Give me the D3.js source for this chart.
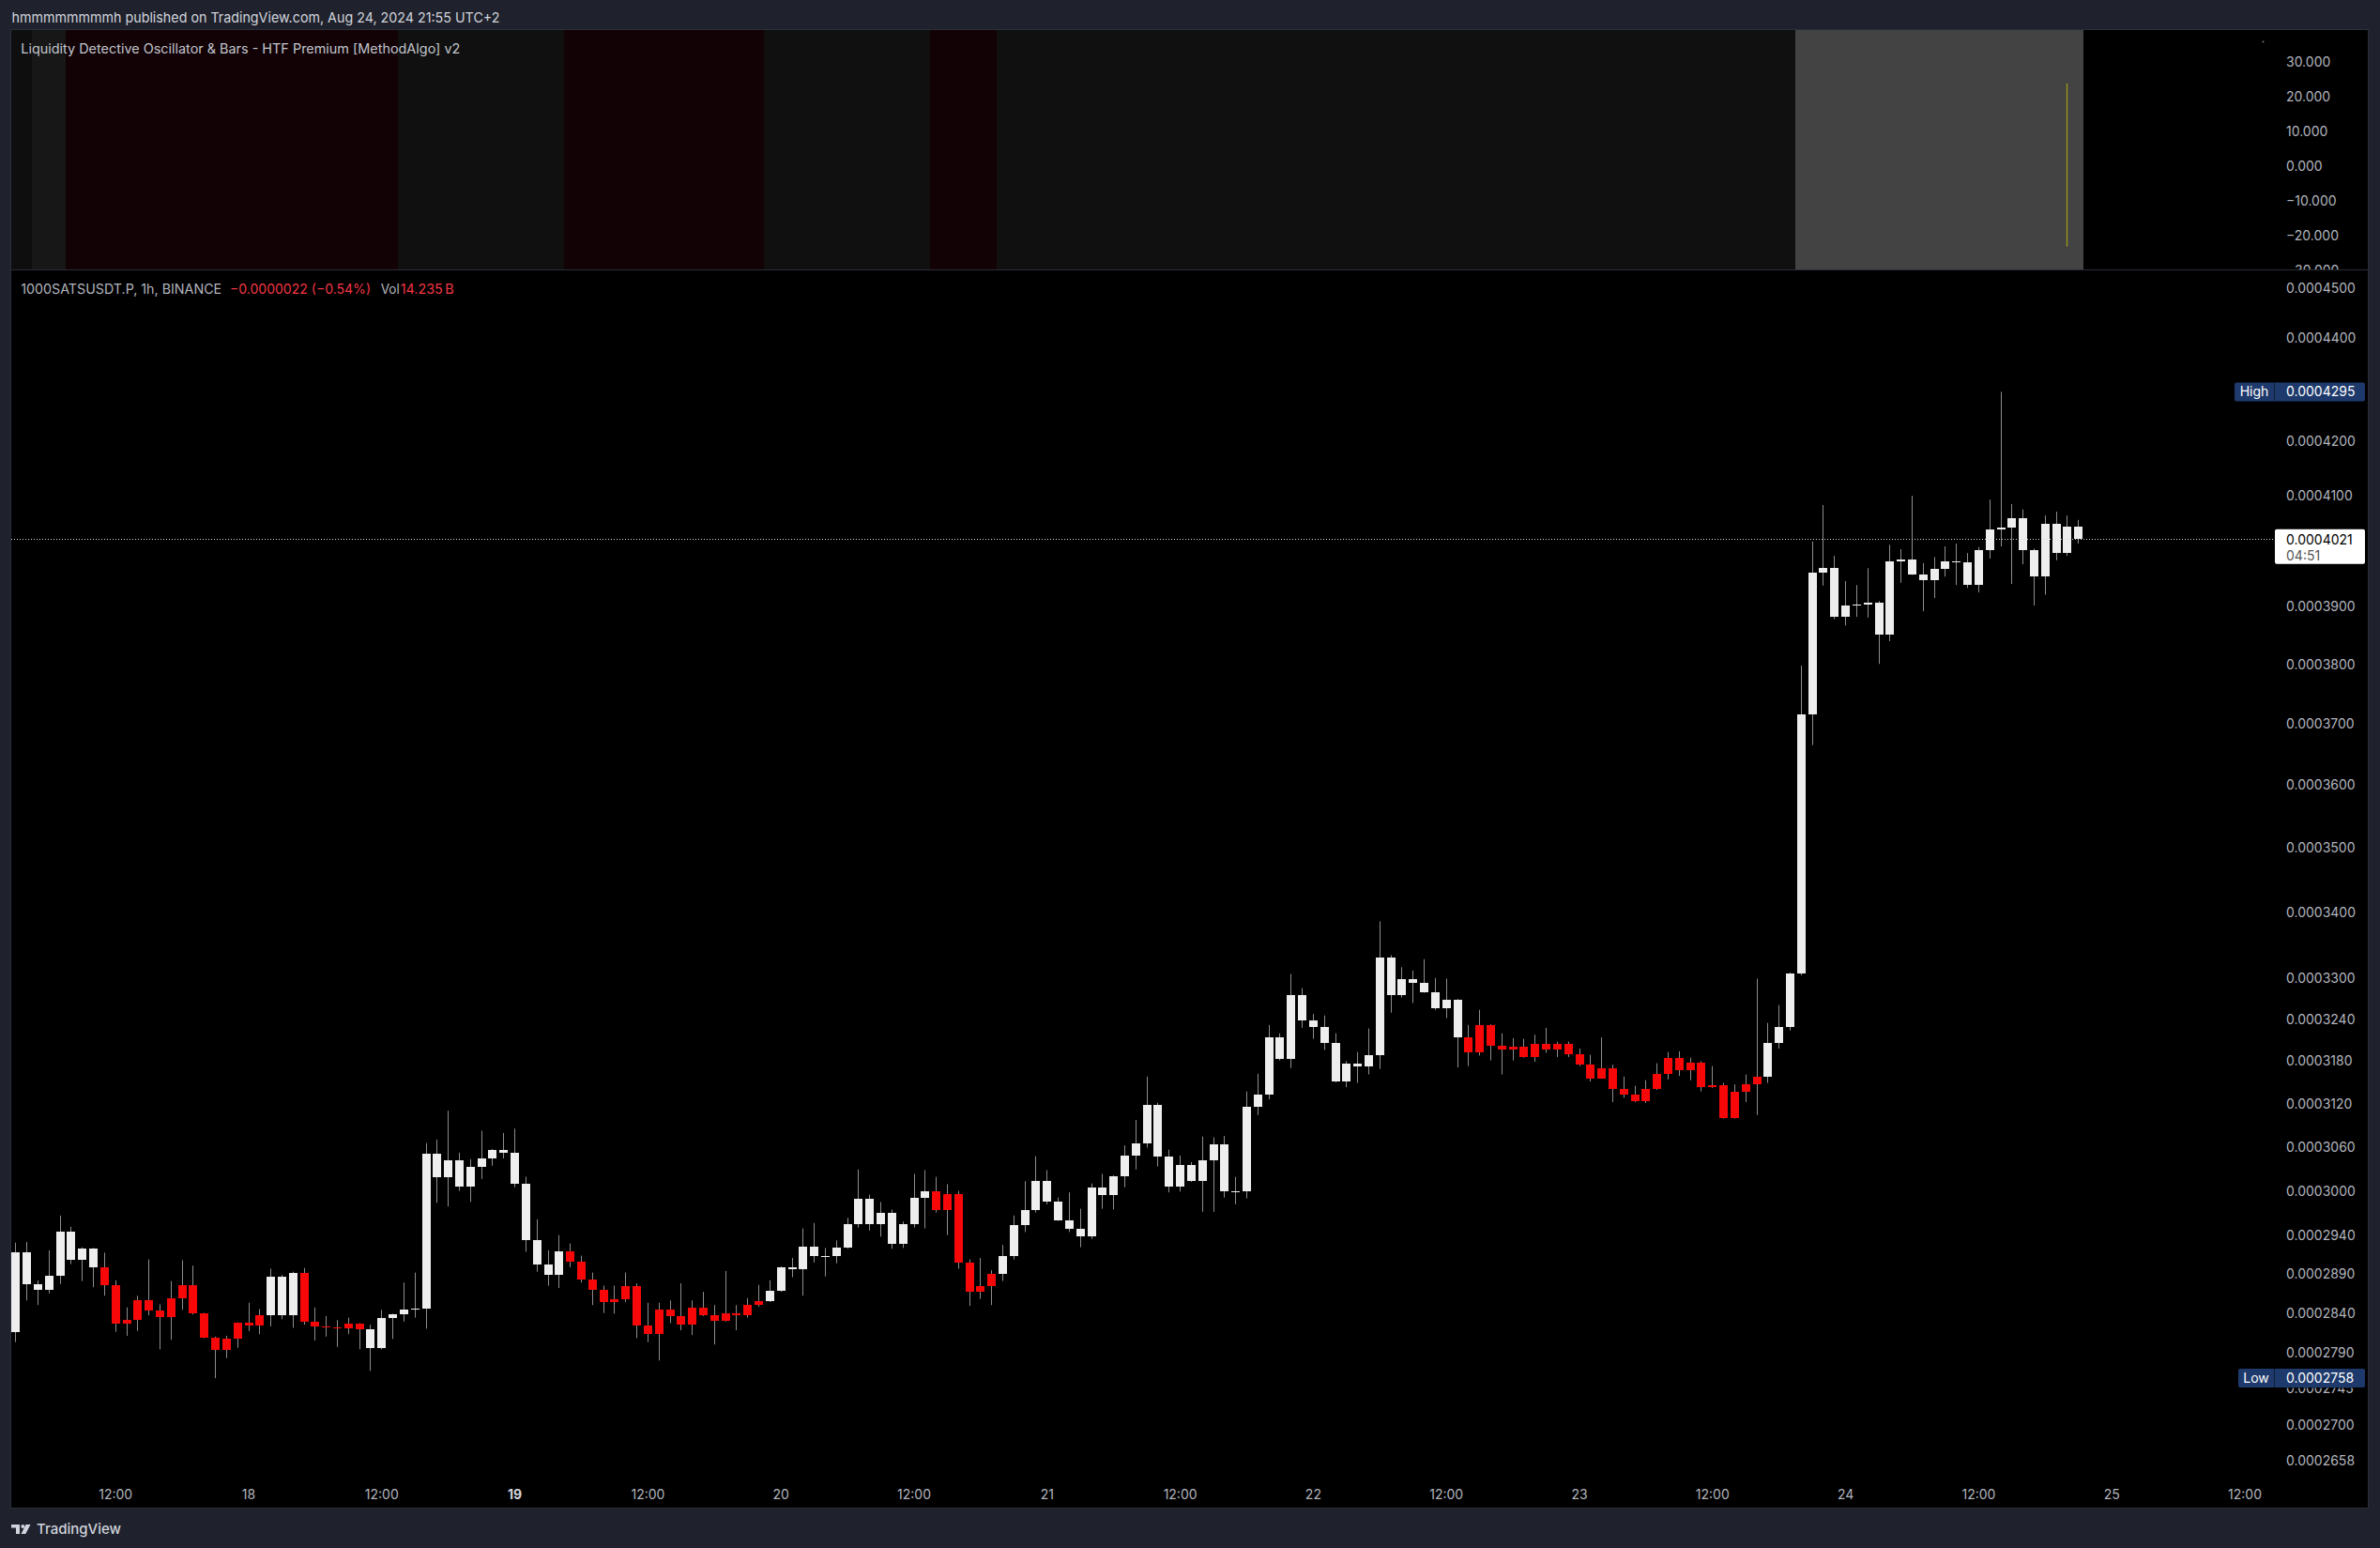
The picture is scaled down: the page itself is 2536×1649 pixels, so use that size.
<!DOCTYPE html>
<html><head><meta charset="utf-8">
<script src="https://cdn.jsdelivr.net/npm/d3@7"></script>
<style>
html,body{margin:0;padding:0;background:#1f222c;overflow:hidden;}
svg{display:block;}
</style></head>
<body><svg id="c" width="2536" height="1649"></svg>
<script>
// ---------------- DATA (prices in units of 1e-7) ----------------
const startTime = "2024-08-17T03:00:00Z";   // first 1h bar, UTC+2 wall clock
const priceUnit = 1e-7;
const open = [2816,2919,2877,2870,2888,2946,2909,2923,2899,2876,2826,2831,2856,2843,2835,2859,2876,2839,2809,2793,
2807,2827,2824,2837,2886,2837,2892,2829,2823,2822,2820,2826,2819,2796,2833,2838,2844,2846,3051,3019,
3041,3006,3032,3044,3056,3052,3009,2934,2903,2889,2920,2906,2883,2870,2854,2858,2875,2824,2813,2844,
2836,2825,2847,2837,2830,2839,2837,2850,2855,2868,2899,2896,2926,2913,2914,2925,2956,2990,2956,2971,
2929,2956,2991,2999,2974,2996,2905,2867,2875,2890,2913,2954,2974,3013,2986,2961,2949,2939,3005,2994,
3020,3048,3065,3118,3046,3006,3035,3013,3041,3064,2999,3000,3116,3132,3214,3183,3276,3239,3229,3206,
3151,3177,3173,3188,3332,3276,3300,3294,3280,3257,3269,3214,3192,3232,3202,3196,3200,3186,3205,3197,
3205,3190,3175,3155,3170,3140,3132,3124,3141,3162,3185,3167,3178,3143,3146,3100,3137,3147,3158,3206,
3229,3308,3716,3960,3969,3882,3902,3904,3907,3852,3980,3983,3957,3946,3966,3980,3979,3938,4000,4038,
4041,4058,4000,3953,4048,3995,4043];
const high = [2931,2932,2882,2921,2967,2952,2925,2924,2918,2882,2847,2862,2909,2851,2881,2908,2901,2840,2810,2811,
2828,2853,2845,2897,2889,2893,2898,2847,2836,2831,2834,2827,2825,2844,2839,2879,2892,3065,3070,3110,
3052,3043,3082,3057,3079,3085,3019,2962,2921,2941,2930,2914,2892,2875,2875,2892,2878,2853,2853,2856,
2878,2856,2867,2850,2894,2850,2859,2876,2882,2900,2911,2950,2957,2924,2934,2964,3029,2995,2985,2975,
2959,3023,3028,3019,3009,3000,2909,2911,2895,2928,2967,3013,3047,3028,2991,2998,2976,3010,3023,3021,
3062,3097,3158,3121,3056,3048,3039,3074,3073,3075,3019,3137,3162,3232,3220,3307,3286,3248,3246,3220,
3180,3193,3227,3386,3335,3317,3312,3329,3301,3300,3270,3232,3254,3233,3220,3213,3212,3218,3228,3208,
3208,3198,3189,3214,3175,3158,3145,3153,3177,3193,3194,3185,3180,3173,3149,3147,3161,3300,3235,3261,
3309,3798,4016,4082,3990,3945,3938,3968,3910,4010,4002,4099,3977,3988,4007,4012,3995,4006,4092,4295,
4084,4074,4003,4063,4070,4063,4055];
const low = [2803,2856,2850,2865,2877,2903,2881,2873,2862,2816,2811,2817,2837,2794,2806,2844,2838,2808,2758,2783,
2796,2817,2813,2823,2832,2821,2825,2805,2810,2797,2813,2794,2767,2794,2807,2829,2834,2820,2984,2979,
3000,2985,3016,3034,3044,3005,2919,2893,2875,2872,2899,2879,2850,2840,2839,2854,2808,2803,2780,2827,
2818,2812,2836,2800,2829,2818,2834,2848,2854,2867,2886,2862,2905,2887,2904,2923,2951,2947,2939,2923,
2924,2951,2950,2971,2941,2897,2849,2858,2850,2881,2909,2945,2971,2982,2960,2945,2925,2936,2976,2975,
3005,3029,3059,3033,2998,2999,3012,2972,2972,2991,2982,2990,3104,3126,3181,3170,3228,3212,3196,3150,
3143,3149,3161,3169,3250,3272,3264,3279,3254,3242,3171,3173,3188,3181,3161,3181,3185,3179,3192,3186,
3186,3173,3151,3155,3122,3128,3122,3121,3139,3154,3159,3153,3137,3142,3099,3099,3122,3104,3149,3198,
3224,3305,3665,3937,3878,3867,3882,3881,3801,3840,3942,3956,3892,3915,3953,3938,3933,3925,3985,4007,
3940,3975,3902,3921,3982,3990,4012];
const close = [2919,2877,2870,2888,2946,2909,2923,2899,2876,2826,2831,2856,2843,2835,2859,2876,2839,2809,2793,2807,
2827,2824,2837,2886,2837,2892,2829,2823,2822,2820,2826,2819,2796,2833,2838,2844,2846,3051,3019,3041,
3006,3032,3044,3056,3052,3009,2934,2903,2889,2920,2906,2883,2870,2854,2858,2875,2824,2813,2844,2836,
2825,2847,2837,2830,2839,2837,2850,2855,2868,2899,2896,2926,2913,2914,2925,2956,2990,2956,2971,2929,
2956,2991,2999,2974,2996,2905,2867,2875,2890,2913,2954,2974,3013,2986,2961,2949,2939,3005,2994,3020,
3048,3065,3118,3046,3006,3035,3013,3041,3064,2999,3000,3116,3132,3214,3183,3276,3239,3229,3206,3151,
3177,3173,3188,3332,3276,3300,3294,3280,3257,3269,3214,3192,3232,3202,3196,3200,3186,3205,3197,3205,
3190,3175,3155,3170,3140,3132,3124,3141,3162,3185,3167,3178,3143,3146,3100,3137,3147,3158,3206,3229,
3308,3716,3960,3969,3882,3902,3904,3907,3852,3980,3983,3957,3946,3966,3980,3979,3938,4000,4038,4041,
4058,4000,3953,4048,3995,4043,4021];
// indicator bar colouring: w = white, r = red
const barColor = ("wwwwwwww" + "rrrrrrrrrrrrrrr" + "www" + "rrrrrr" + "wwwwwwwwwwwwwwwwww" +
  "rrrrrrrrrrrrrrrrrr" + "wwwwwwwwwwwwwww" + "rrrrrr" +
  "wwwwwwwwwwwwwwwwwwwwwwwwwwwwwwwwwwwwwwwwww" + "rrrrrrrrrrrrrrrrrrrrrrrrrrr" +
  "wwwwwwwwwwwwwwwwwwwwwwwwwwwww").split("");
// oscillator pane background states (run starts by bar index)
const oscBgStart = [0, 2, 5, 35, 50, 68, 83, 89, 161];
const oscBgState = ["a","b","r","g","r","g","r","g","h"];
const oscSpikeBar = 185, oscSpikeHigh = 23.8, oscSpikeLow = -23.2;
// axes
const priceTicks = [0.00045,0.00044,0.00042,0.00041,0.00039,0.00038,0.00037,0.00036,0.00035,0.00034,0.00033,
  0.000324,0.000318,0.000312,0.000306,0.0003,0.000294,0.000289,0.000284,0.000279,0.0002745,0.00027,0.0002658];
const oscTicks = [30,20,10,0,-10,-20,-30];
const timeTicks = ["2024-08-17T12:00","2024-08-18T00:00","2024-08-18T12:00","2024-08-19T00:00","2024-08-19T12:00",
  "2024-08-20T00:00","2024-08-20T12:00","2024-08-21T00:00","2024-08-21T12:00","2024-08-22T00:00","2024-08-22T12:00",
  "2024-08-23T00:00","2024-08-23T12:00","2024-08-24T00:00","2024-08-24T12:00","2024-08-25T00:00","2024-08-25T12:00"];
const timeTickLabels = ["12:00","18","12:00","19","12:00","20","12:00","21","12:00","22","12:00","23","12:00","24","12:00","25","12:00"];
const boldTick = "19";
const highValue = 0.0004295, lowValue = 0.0002758, lastValue = 0.0004021, countdown = "04:51";

// ---------------- LAYOUT ----------------
const FONT = "Inter, 'Noto Sans', sans-serif";
const frame = {l:12, t:32, r:2523, b:1606};
const plotR = 2422, oscBot = 287.5, mainTop = 288, mainBot = 1576;
const svg = d3.select("#c");
const defs = svg.append("defs");
defs.append("clipPath").attr("id","mainClip").append("rect")
  .attr("x",frame.l).attr("y",mainTop).attr("width",plotR-frame.l).attr("height",mainBot-mainTop);
defs.append("clipPath").attr("id","oscClip").append("rect")
  .attr("x",frame.l).attr("y",frame.t).attr("width",frame.r-frame.l).attr("height",oscBot-frame.t);
// price labels that sit under the Low tag are only visible below it
defs.append("clipPath").attr("id","lowTagClip").append("rect")
  .attr("x",2380).attr("y",1479.5).attr("width",150).attr("height",40);

svg.append("rect").attr("width",2536).attr("height",1649).attr("fill","#1f222c");
svg.append("rect").attr("x",frame.l).attr("y",frame.t).attr("width",frame.r-frame.l).attr("height",frame.b-frame.t)
  .attr("fill","#000");

const x = d3.scaleUtc()
  .domain([new Date("2024-08-18T00:00:00Z"), new Date("2024-08-25T00:00:00Z")])
  .range([264.5, 2249.7]);
const y = d3.scaleLog().domain([0.00045, 0.0002658]).range([306.8, 1555.7]);
const yo = d3.scaleLinear().domain([30, -20]).range([66, 250.7]);
const hourPx = x(new Date("2024-08-18T01:00:00Z")) - x(new Date("2024-08-18T00:00:00Z"));

const t0 = Date.parse(startTime);
const data = open.map((o,i)=>({i, t:new Date(t0 + i*3600000), o:o*priceUnit, h:high[i]*priceUnit,
  l:low[i]*priceUnit, c:close[i]*priceUnit, col:barColor[i]}));

// ---------------- OSCILLATOR PANE ----------------
const bgColors = {a:"#0e0e0e", b:"#171717", r:"#120205", g:"#101010", h:"#434343"};
const og = svg.append("g").attr("clip-path","url(#oscClip)");
oscBgStart.forEach((s,k)=>{
  const e = (k+1<oscBgStart.length ? oscBgStart[k+1] : data.length) - 1;
  const x0 = Math.max(frame.l, x(data[s].t) - hourPx/2);
  const x1 = x(data[e].t) + hourPx/2;
  og.append("rect").attr("x",x0).attr("y",frame.t).attr("width",x1-x0).attr("height",oscBot-frame.t)
    .attr("fill",bgColors[oscBgState[k]]).attr("shape-rendering","crispEdges");
});
const spX = Math.round(x(data[oscSpikeBar].t))+0.5;
og.append("line").attr("x1",spX).attr("x2",spX)
  .attr("y1",yo(oscSpikeHigh)).attr("y2",yo(oscSpikeLow)).attr("stroke","#9d9a1a").attr("stroke-width",1.3);
og.append("circle").attr("cx",2411.5).attr("cy",44.5).attr("r",1).attr("fill","#777");

const gOscAx = og.append("g").attr("transform","translate(2436,0)")
  .call(d3.axisRight(yo).tickValues(oscTicks).tickSize(0).tickPadding(0)
    .tickFormat(d=>(d<0?"\u2212":"")+Math.abs(d).toFixed(3)));
gOscAx.select(".domain").remove();
gOscAx.selectAll("text").attr("fill","#b2b5be").attr("font-size",14).attr("font-family",FONT);

// pane separator
svg.append("line").attr("x1",frame.l).attr("x2",frame.r).attr("y1",287.5).attr("y2",287.5)
  .attr("stroke","#2a2e39").attr("stroke-width",1);

// ---------------- CANDLES ----------------
const gc = svg.append("g").attr("clip-path","url(#mainClip)");
gc.selectAll("line.wick").data(data).join("line").attr("class","wick")
  .attr("x1",d=>Math.round(x(d.t))+0.5).attr("x2",d=>Math.round(x(d.t))+0.5)
  .attr("y1",d=>y(d.h)).attr("y2",d=>y(d.l))
  .attr("stroke","#8d8d8d").attr("stroke-width",1);
gc.selectAll("rect.body").data(data).join("rect").attr("class","body")
  .attr("x",d=>Math.round(x(d.t))-4).attr("width",9)
  .attr("y",d=>Math.min(y(d.o),y(d.c)))
  .attr("height",d=>Math.max(1,Math.abs(y(d.o)-y(d.c))))
  .attr("fill",d=>d.col==="r"?"#f70707":"#eeeeee")
  .attr("shape-rendering","crispEdges");

// last price dotted line
const yLast = Math.round(y(lastValue))+0.5;
svg.append("line").attr("x1",frame.l).attr("x2",plotR).attr("y1",yLast).attr("y2",yLast)
  .attr("stroke","#d8d8d8").attr("stroke-width",1).attr("stroke-dasharray","1,2");

// ---------------- PRICE AXIS ----------------
const lowTagY = y(lowValue);
const gPA = svg.append("g").attr("transform","translate(2436,0)")
  .call(d3.axisRight(y).tickValues(priceTicks).tickSize(0).tickPadding(0).tickFormat(d=>d.toFixed(7)));
gPA.select(".domain").remove();
gPA.selectAll("text").attr("fill","#b2b5be").attr("font-size",14).attr("font-family",FONT);
// a tick label hidden partly behind the Low tag: show only its lower part, like the reference
gPA.selectAll(".tick").filter(d=>Math.abs(y(d)-lowTagY)<12).each(function(){
  const t = d3.select(this);
  const ty = t.attr("transform");
  t.attr("transform",null);
  const tt = t.select("text");
  const tyv = +ty.match(/,([\d.]+)\)/)[1];
  tt.attr("y",tyv).attr("x",0);
  t.attr("transform",null);
  t.attr("clip-path","url(#lowTagClipLocal)");
});
defs.append("clipPath").attr("id","lowTagClipLocal").append("rect")
  .attr("x",-60).attr("y",lowTagY+10.5).attr("width",200).attr("height",30);

function tagBox(label, value, x0){
  const yc = y(value);
  const g = svg.append("g");
  g.append("rect").attr("x",x0).attr("y",yc-10).attr("width",2520-x0).attr("height",20).attr("rx",2)
    .attr("fill","#1e3a6c");
  g.append("line").attr("x1",2423.5).attr("x2",2423.5).attr("y1",yc-10).attr("y2",yc+10).attr("stroke","#0f1e3a");
  g.append("text").attr("x",(x0+2423)/2).attr("y",yc).attr("dy","0.35em").attr("text-anchor","middle")
    .attr("fill","#fff").attr("font-size",14).attr("font-family",FONT).text(label);
  g.append("text").attr("x",2436).attr("y",yc).attr("dy","0.35em")
    .attr("fill","#fff").attr("font-size",14).attr("font-family",FONT).text(value.toFixed(7));
}
tagBox("High", highValue, 2381);
tagBox("Low", lowValue, 2385);

// last price box
const yl = y(lastValue);
svg.append("rect").attr("x",2424).attr("y",yl-10).attr("width",96).attr("height",37).attr("rx",2).attr("fill","#fff");
svg.append("text").attr("x",2436).attr("y",yl+1).attr("dy","0.35em").attr("fill","#000")
  .attr("font-size",14).attr("font-family",FONT).text(lastValue.toFixed(7));
svg.append("text").attr("x",2436).attr("y",yl+18).attr("dy","0.35em").attr("fill","#555")
  .attr("font-size",14).attr("font-family",FONT).text(countdown);

// ---------------- TIME AXIS ----------------
const gT = svg.append("g").attr("transform","translate(0,1592)")
  .call(d3.axisBottom(x).tickValues(timeTicks.map(s=>new Date(s+":00Z"))).tickSize(0).tickPadding(0)
    .tickFormat((d,i)=>timeTickLabels[i]));
gT.select(".domain").remove();
gT.selectAll("text").attr("y",0).attr("dy","0.35em").attr("font-size",14).attr("font-family",FONT)
  .attr("fill","#b2b5be")
  .each(function(){ const t=d3.select(this); if(t.text()===boldTick) t.attr("font-weight",700).attr("fill","#d1d4dc"); });

// frame border
svg.append("rect").attr("x",frame.l-0.5).attr("y",frame.t-0.5).attr("width",frame.r-frame.l+1).attr("height",frame.b-frame.t+1)
  .attr("fill","none").attr("stroke","#2a2e39");

// ---------------- TEXTS ----------------
svg.append("text").attr("x",12.5).attr("y",19).attr("dy","0.35em").attr("fill","#d1d4dc")
  .attr("font-size",15).attr("font-family",FONT).attr("textLength",520).attr("lengthAdjust","spacingAndGlyphs")
  .text("hmmmmmmmmh published on TradingView.com, Aug 24, 2024 21:55 UTC+2");
svg.append("text").attr("x",22.3).attr("y",52.3).attr("dy","0.35em").attr("fill","#c3c6ce")
  .attr("font-size",14).attr("font-family",FONT).attr("textLength",468).attr("lengthAdjust","spacingAndGlyphs")
  .text("Liquidity Detective Oscillator & Bars - HTF Premium [MethodAlgo] v2");
const legend = [
  {t:"1000SATSUSDT.P, 1h, BINANCE", x:22.2, w:214, c:"#b2b5be"},
  {t:"\u22120.0000022 (\u22120.54%)", x:245, w:150, c:"#f23645"},
  {t:"Vol", x:405.7, w:20, c:"#b2b5be"},
  {t:"14.235\u2009B", x:426.7, w:57, c:"#f23645"}];
legend.forEach(s=>svg.append("text").attr("x",s.x).attr("y",308.3).attr("dy","0.35em").attr("fill",s.c)
  .attr("font-size",14).attr("font-family",FONT).attr("textLength",s.w).attr("lengthAdjust","spacingAndGlyphs").text(s.t));

// footer logo
const lg = svg.append("g").attr("fill","#d1d4dc");
lg.append("path").attr("d","M12,1624 h9 v10 h-4 v-6.5 h-5 z");
lg.append("circle").attr("cx",24.3).attr("cy",1626).attr("r",1.9);
lg.append("path").attr("d","M27.5,1624 h5 l-5.2,10 h-4.8 z");
svg.append("text").attr("x",39).attr("y",1629).attr("dy","0.35em").attr("fill","#d1d4dc")
  .attr("font-size",15).attr("font-weight",500).attr("font-family",FONT).attr("textLength",90)
  .attr("lengthAdjust","spacingAndGlyphs").text("TradingView");
</script>
</body></html>
